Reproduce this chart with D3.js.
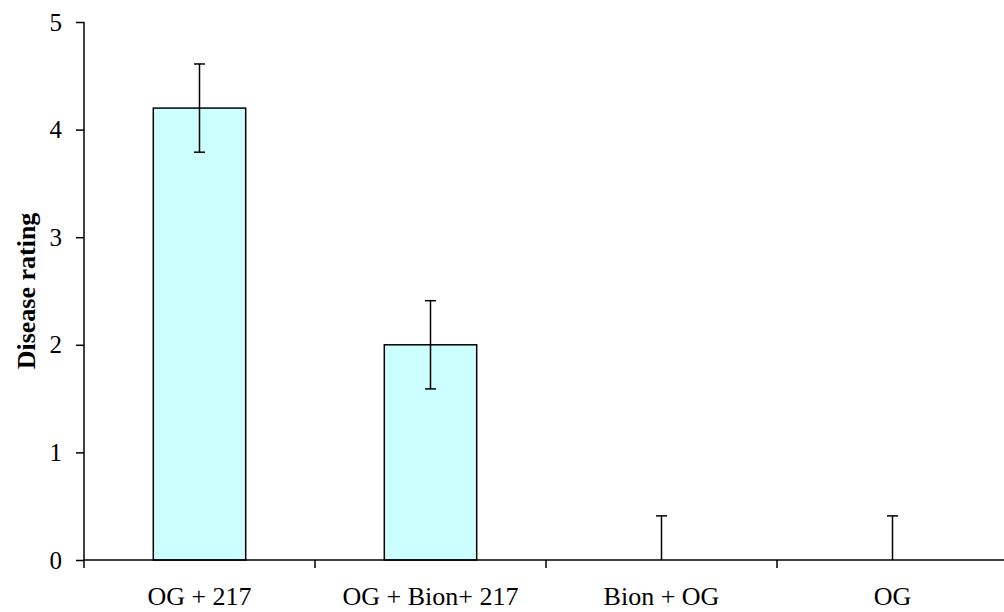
<!DOCTYPE html>
<html>
<head>
<meta charset="utf-8">
<script src="https://cdn.jsdelivr.net/npm/d3@7"></script>
<style>
  html, body { margin: 0; padding: 0; background: #fff; }
  svg { display: block; }
  text { font-family: "Liberation Serif", "Times New Roman", serif; fill: #000; }
</style>
</head>
<body>
<svg id="chart" width="1004" height="612"></svg>
<script>
// Treatments and their mean disease ratings with error
const categories = ["OG + 217", "OG + Bion+ 217", "Bion + OG", "OG"];
const ratings = [4.2, 2.0, 0, 0];
const errors = [0.41, 0.41, 0.41, 0.41];
const yTicks = [0, 1, 2, 3, 4, 5];

const svg = d3.select("#chart");
const margin = { left: 84, right: -4, top: 22, bottom: 52 };
const W = 1004, H = 612;

const x = d3.scaleBand()
  .domain(categories)
  .range([margin.left, W - margin.right])
  .paddingInner(0)
  .paddingOuter(0);

const y = d3.scaleLinear()
  .domain([0, 5])
  .range([H - margin.bottom, margin.top]);

const barW = x.bandwidth() * 0.4;

// Bars
svg.append("g").selectAll("rect")
  .data(categories.map((c, i) => ({ c, v: ratings[i], e: errors[i] })))
  .join("rect")
  .attr("x", d => x(d.c) + x.bandwidth() / 2 - barW / 2)
  .attr("y", d => y(d.v))
  .attr("width", barW)
  .attr("height", d => y(0) - y(d.v))
  .attr("fill", "#ccffff")
  .attr("stroke", "#000")
  .attr("stroke-width", 1.5);

// Error bars (clipped at the axis)
const err = svg.append("g").attr("stroke", "#000").attr("stroke-width", 1.5);
categories.forEach((c, i) => {
  const cx = x(c) + x.bandwidth() / 2;
  const hi = ratings[i] + errors[i];
  const lo = Math.max(0, ratings[i] - errors[i]);
  err.append("line").attr("x1", cx).attr("x2", cx).attr("y1", y(hi)).attr("y2", y(lo));
  err.append("line").attr("x1", cx - 5.5).attr("x2", cx + 5.5).attr("y1", y(hi)).attr("y2", y(hi));
  if (ratings[i] - errors[i] > 0) {
    err.append("line").attr("x1", cx - 5.5).attr("x2", cx + 5.5).attr("y1", y(lo)).attr("y2", y(lo));
  }
});

// Y axis
const yAxis = svg.append("g")
  .attr("transform", `translate(${margin.left},0)`)
  .call(d3.axisLeft(y).tickValues(yTicks).tickFormat(d3.format("d")).tickSize(8).tickPadding(14));
yAxis.select(".domain").attr("d", `M0,${y(5)}V${y(0)}`).attr("stroke-width", 1.5);
yAxis.selectAll(".tick line").attr("stroke-width", 1.5);
yAxis.selectAll("text").style("font-size", "25px").attr("fill", "#000");

// X axis with ticks on category boundaries
const xAxisG = svg.append("g").attr("transform", `translate(0,${y(0)})`);
xAxisG.append("line")
  .attr("x1", margin.left).attr("x2", W)
  .attr("stroke", "#000").attr("stroke-width", 1.5);
const bounds = categories.map(c => x(c));
xAxisG.selectAll("line.tk").data(bounds).join("line")
  .attr("class", "tk")
  .attr("x1", d => d).attr("x2", d => d)
  .attr("y1", 0).attr("y2", 8)
  .attr("stroke", "#000").attr("stroke-width", 1.5);
xAxisG.selectAll("text").data(categories).join("text")
  .attr("x", d => x(d) + x.bandwidth() / 2)
  .attr("y", 45)
  .attr("text-anchor", "middle")
  .style("font-size", "26px")
  .text(d => d);

// Y title
svg.append("text")
  .attr("transform", `translate(35,291) rotate(-90)`)
  .attr("text-anchor", "middle")
  .style("font-size", "26px")
  .style("font-weight", "bold")
  .text("Disease rating");
</script>
</body>
</html>
